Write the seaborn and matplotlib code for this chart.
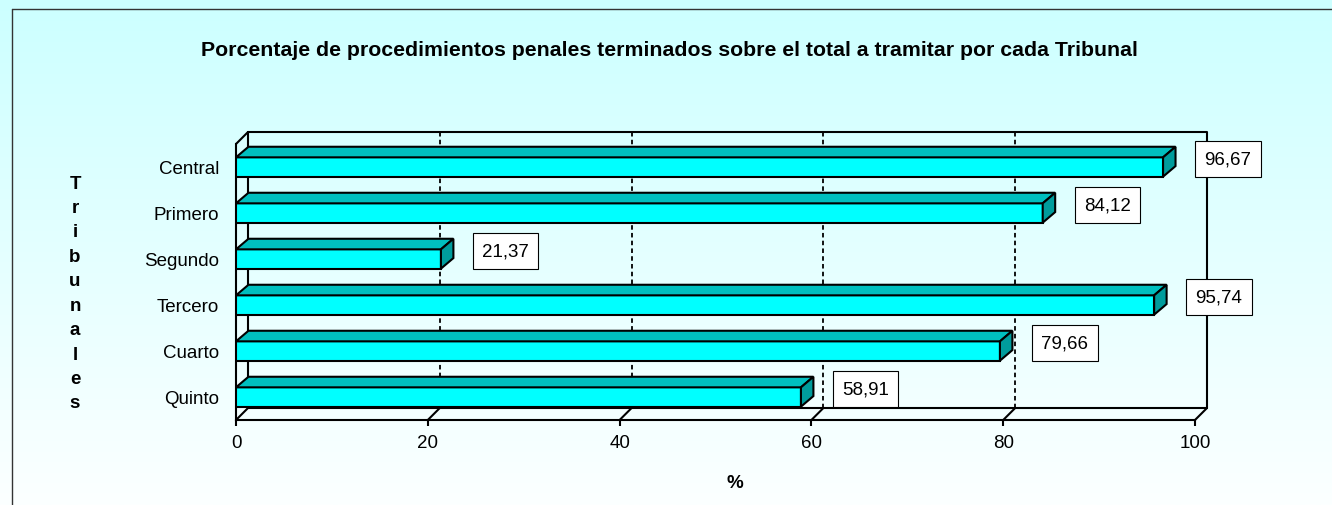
import matplotlib
matplotlib.use("Agg")
import matplotlib.pyplot as plt
from matplotlib.patches import Polygon
from matplotlib.lines import Line2D
import numpy as np
import pandas as pd
import seaborn as sns

tribunales = ["Central", "Primero", "Segundo", "Tercero", "Cuarto", "Quinto"]
porcentajes = [96.67, 84.12, 21.37, 95.74, 79.66, 58.91]
etiquetas = ["96,67", "84,12", "21,37", "95,74", "79,66", "58,91"]
x_ticks = [0, 20, 40, 60, 80, 100]

df = pd.DataFrame({"tribunal": tribunales, "pct": porcentajes})

sns.set_style("white")
plt.rcParams["font.family"] = ["Liberation Sans", "DejaVu Sans"]
plt.rcParams["text.color"] = "black"
plt.rcParams["xtick.color"] = "black"
plt.rcParams["ytick.color"] = "black"

W, H = 1332, 506
fig = plt.figure(figsize=(W / 100, H / 100), dpi=100)

# background gradient
bg = fig.add_axes([0, 0, 1, 1], zorder=-10)
grad = np.linspace(0, 1, 256).reshape(-1, 1)
top = np.array([204, 255, 255]) / 255
bot = np.array([252, 255, 255]) / 255
img = top + (bot - top) * grad[..., None]
bg.imshow(img, aspect="auto", extent=[0, 1, 0, 1])
bg.set_axis_off()

# outer border (left and top only visible)
fig.add_artist(Line2D([12 / W, 12 / W], [0, 1 - 10 / H], color="#333333", lw=1))
fig.add_artist(Line2D([12 / W, 1], [1 - 10 / H, 1 - 10 / H], color="#333333", lw=1))

ax = fig.add_axes([236 / W, 1 - 421 / H, 959 / W, 276 / H])
ax.patch.set_alpha(0)

sns.barplot(data=df, x="pct", y="tribunal", orient="h", color="#00FFFF",
            edgecolor="black", linewidth=1.5, width=0.42, saturation=1, ax=ax, zorder=5)

ax.set_xlim(0, 100)
ax.set_ylim(5.5, -0.5)

# depth of the 3D walls in data units
dx = 12 / 9.59
dy = 12 / 46.0
yb, yt = 5.5, -0.5
lk = dict(color="black", lw=1.5, clip_on=False, zorder=2)

# back wall & right edge
ax.plot([dx, 100 + dx, 100 + dx], [yt - dy, yt - dy, yb - dy], **lk)
ax.plot([dx, dx], [yt - dy, yb - dy], **lk)
ax.plot([0, dx], [yt, yt - dy], **lk)
# floor
ax.plot([dx, 100 + dx], [yb - dy, yb - dy], **lk)
for t in x_ticks:
    ax.plot([t, t + dx], [yb, yb - dy], **lk)
    if 0 < t < 100:
        ax.plot([t + dx, t + dx], [yt - dy, yb - dy], color="black", lw=1.3,
                ls=(0, (2.5, 1.8)), clip_on=False, zorder=1)

# 3D faces of bars
bdx, bdy = 1.3, 0.23
for p in ax.patches:
    x0, y0 = p.get_x(), p.get_y()
    w, h = p.get_width(), p.get_height()
    ytop = y0  # inverted axis: y0 is visual top
    topface = Polygon([(x0, ytop), (x0 + bdx, ytop - bdy), (x0 + w + bdx, ytop - bdy), (x0 + w, ytop)],
                      closed=True, fc="#00BFBF", ec="black", lw=1.5, zorder=6, clip_on=False)
    side = Polygon([(x0 + w, ytop), (x0 + w + bdx, ytop - bdy), (x0 + w + bdx, ytop + h - bdy), (x0 + w, ytop + h)],
                   closed=True, fc="#009C9C", ec="black", lw=1.5, zorder=6, clip_on=False)
    ax.add_patch(topface)
    ax.add_patch(side)

# data labels
for i, (v, lab) in enumerate(zip(porcentajes, etiquetas)):
    ax.text(v + 4.3, i - 0.17, lab, ha="left", va="center", fontsize=13.5, zorder=8,
            bbox=dict(boxstyle="square,pad=0.5", fc="white", ec="black", lw=0.8), clip_on=False)

sns.despine(ax=ax, top=True, right=True)
for s in ["left", "bottom"]:
    ax.spines[s].set_linewidth(1.5)
    ax.spines[s].set_color("black")
ax.set_xticks(x_ticks)
ax.set_xticklabels([str(t) for t in x_ticks], fontsize=13.5)
ax.tick_params(axis="x", length=4, width=1.5, pad=6, direction="out", bottom=True)
ax.tick_params(axis="y", length=0, pad=12, labelsize=13.5)
ax.set_xlabel("")
ax.set_ylabel("")

fig.text(669 / W, 1 - 51 / H, "Porcentaje de procedimientos penales terminados sobre el total a tramitar por cada Tribunal",
         ha="center", va="center", fontsize=15.3, fontweight="bold")
fig.text(735 / W, 1 - 484 / H, "%", ha="center", va="center", fontsize=13.5, fontweight="bold")
fig.text(75 / W, 1 - 294 / H, "\n".join("Tribunales"), ha="center", va="center",
         fontsize=13.5, fontweight="bold", linespacing=1.57)

fig.savefig("out.png", dpi=100)
